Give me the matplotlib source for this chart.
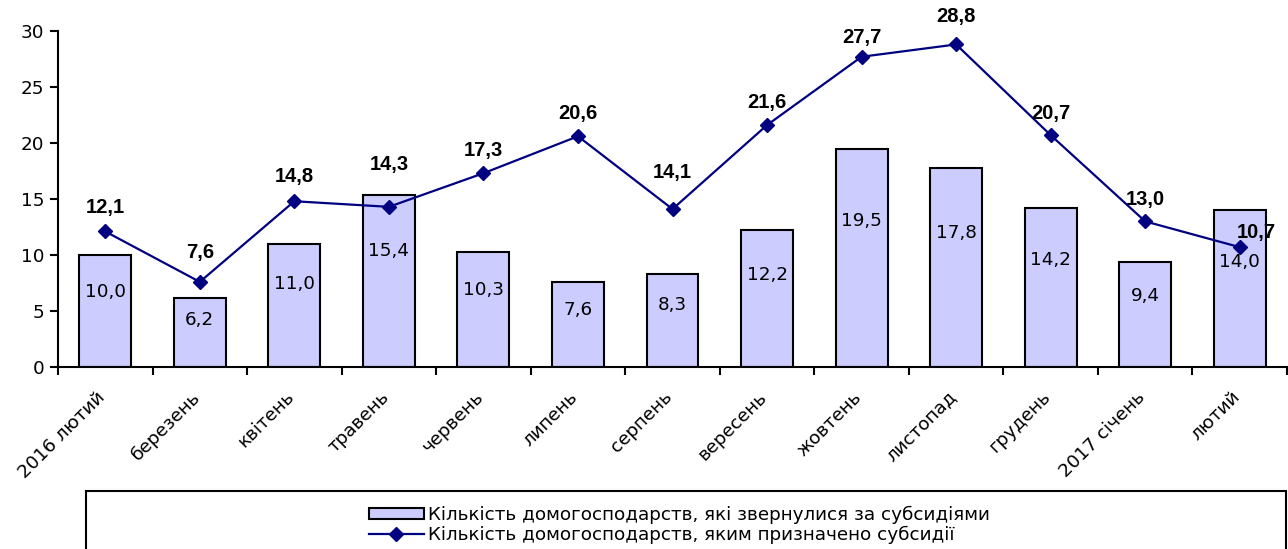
import matplotlib
matplotlib.use("Agg")
import matplotlib.pyplot as plt
import matplotlib.transforms as mtransforms
from matplotlib.patches import Rectangle
from matplotlib.lines import Line2D
import numpy as np

plt.rcParams['font.family'] = ['DejaVu Sans']

categories = ["2016 лютий", "березень", "квітень", "травень", "червень", "липень",
              "серпень", "вересень", "жовтень", "листопад", "грудень", "2017 січень", "лютий"]
applied = [10.0, 6.2, 11.0, 15.4, 10.3, 7.6, 8.3, 12.2, 19.5, 17.8, 14.2, 9.4, 14.0]
granted = [12.1, 7.6, 14.8, 14.3, 17.3, 20.6, 14.1, 21.6, 27.7, 28.8, 20.7, 13.0, 10.7]
label_applied = "Кількість домогосподарств, які звернулися за субсидіями"
label_granted = "Кількість домогосподарств, яким призначено субсидії"

# label placement offsets in pixels (layout only)
line_label_dy = [24, 29, 25, 42, 23, 23, 37, 23, 19, 28, 22, 22, 15]
line_label_dx = [0, 0, 0, 0, 0, 0, 0, 0, 0, 0, 0, 0, 17]

def fmt(v):
    return f"{v:.1f}".replace(".", ",")

FS = 13.2
fig = plt.figure(figsize=(12.88, 5.49), dpi=100)
ax = fig.add_axes([58/1288, 1-367/549, 1229/1288, 336/549])
x = np.arange(len(categories))

ax.bar(x, applied, width=0.55, color="#CCCCFF", edgecolor="black", linewidth=1.5, zorder=2)
ax.plot(x, granted, color="#000080", marker="D", markersize=7.5, linewidth=1.6, zorder=3)

for xi, v in zip(x, applied):
    ax.text(xi, v*0.67, fmt(v), ha="center", va="center", fontsize=FS, zorder=4)
for i, (xi, v) in enumerate(zip(x, granted)):
    ax.annotate(fmt(v), (xi, v), xytext=(line_label_dx[i], line_label_dy[i]),
                textcoords="offset pixels", ha="center", va="center",
                fontsize=14.5, fontweight="bold", family="Liberation Sans", zorder=4)

ax.set_xlim(-0.5, len(x) - 0.5)
ax.set_ylim(0, 30)
ax.set_yticks(range(0, 31, 5))
ax.set_xticks(np.arange(-0.5, len(x), 1.0))
ax.set_xticklabels([])
ax.set_xticks(x, minor=True)
ax.set_xticklabels(categories, minor=True, rotation=45, ha="right", rotation_mode="anchor", fontsize=FS)
ax.tick_params(axis="x", which="minor", length=0, pad=15)
ax.tick_params(axis="x", which="major", length=6, width=1.5, direction="out")
ax.tick_params(axis="y", length=6, width=1.5, direction="out", labelsize=FS, pad=4)
shift = mtransforms.ScaledTranslation(-9/100, 0, fig.dpi_scale_trans)
for lbl in ax.get_xticklabels(minor=True):
    lbl.set_transform(lbl.get_transform() + shift)
for s in ["top", "right"]:
    ax.spines[s].set_visible(False)
for s in ["left", "bottom"]:
    ax.spines[s].set_linewidth(1.5)

# legend box
fig.patches.append(Rectangle((86/1288, -0.05), 1200/1288, 1-491/549+0.05, transform=fig.transFigure,
                             facecolor="white", edgecolor="black", linewidth=1.5, zorder=1))
handles = [Rectangle((0, 0), 1, 1, facecolor="#CCCCFF", edgecolor="black", linewidth=1.5),
           Line2D([], [], color="#000080", marker="D", markersize=7.5, linewidth=1.6)]
leg = fig.legend(handles, [label_applied, label_granted], loc="upper left",
                 bbox_to_anchor=(356/1288, 1-493/549), frameon=False,
                 handlelength=3.0, handleheight=0.6, handletextpad=0.25, labelspacing=0.1, borderpad=0.2,
                 prop={"size": FS})
leg.set_zorder(5)

fig.savefig("out.png", dpi=100)
